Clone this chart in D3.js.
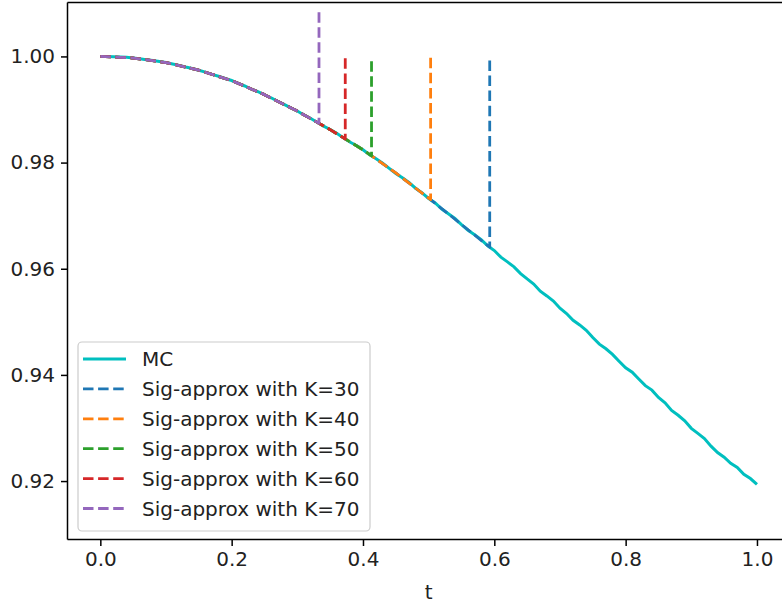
<!DOCTYPE html>
<html>
<head>
<meta charset="utf-8">
<script src="https://cdn.jsdelivr.net/npm/d3@7"></script>
<style>
  html, body { margin: 0; padding: 0; background: #ffffff; }
  svg { display: block; font-family: "DejaVu Sans", sans-serif; }
</style>
</head>
<body>
<svg id="chart" width="782" height="608"></svg>
<script>
// ---------- data ----------
const mcValues = [
  1.00000, 0.99999, 0.99996, 0.99990, 0.99983, 0.99970, 0.99956, 0.99938, 0.99923, 0.99904,
  0.99886, 0.99858, 0.99832, 0.99801, 0.99773, 0.99739, 0.99705, 0.99662, 0.99627, 0.99584,
  0.99546, 0.99492, 0.99443, 0.99386, 0.99336, 0.99278, 0.99221, 0.99155, 0.99097, 0.99031,
  0.98972, 0.98898, 0.98835, 0.98761, 0.98686, 0.98623, 0.98551, 0.98467, 0.98387, 0.98321,
  0.98241, 0.98147, 0.98072, 0.97988, 0.97890, 0.97796, 0.97713, 0.97626, 0.97517, 0.97429,
  0.97324, 0.97240, 0.97124, 0.97035, 0.96946, 0.96830, 0.96725, 0.96641, 0.96549, 0.96432,
  0.96343, 0.96218, 0.96129, 0.96036, 0.95909, 0.95808, 0.95712, 0.95578, 0.95488, 0.95392,
  0.95256, 0.95157, 0.95028, 0.94942, 0.94841, 0.94703, 0.94580, 0.94492, 0.94386, 0.94258,
  0.94134, 0.94050, 0.93924, 0.93798, 0.93713, 0.93574, 0.93473, 0.93330, 0.93239, 0.93135,
  0.92993, 0.92898, 0.92801, 0.92658, 0.92538, 0.92450, 0.92335, 0.92258, 0.92128, 0.92048,
  0.91937
];

const sigT30 = [0, 0.05, 0.10, 0.15, 0.20, 0.25, 0.30, 0.35, 0.40, 0.45, 0.50, 0.55, 0.593, 0.593];
const sigV30 = [1.0000, 0.9997, 0.99885, 0.9974, 0.99545, 0.9928, 0.9897, 0.9862, 0.9824, 0.97805, 0.9733, 0.96835, 0.96405, 1.0000];

const sigT40 = [0, 0.05, 0.10, 0.15, 0.20, 0.25, 0.30, 0.35, 0.40, 0.45, 0.50, 0.503, 0.503];
const sigV40 = [1.0000, 0.9997, 0.99885, 0.9974, 0.99545, 0.9928, 0.9897, 0.9862, 0.9824, 0.97805, 0.9733, 0.97302, 1.0000];

const sigT50 = [0, 0.05, 0.10, 0.15, 0.20, 0.25, 0.30, 0.35, 0.40, 0.413, 0.413];
const sigV50 = [1.0000, 0.9997, 0.99885, 0.9974, 0.99545, 0.9928, 0.9897, 0.9862, 0.9824, 0.98127, 1.0000];

const sigT60 = [0, 0.05, 0.10, 0.15, 0.20, 0.25, 0.30, 0.35, 0.373, 0.373];
const sigV60 = [1.0000, 0.9997, 0.99885, 0.9974, 0.99545, 0.9928, 0.9897, 0.9862, 0.98445, 1.0000];

const sigT70 = [0, 0.05, 0.10, 0.15, 0.20, 0.25, 0.30, 0.333, 0.333];
const sigV70 = [1.0000, 0.9997, 0.99885, 0.9974, 0.99545, 0.9928, 0.9897, 0.98739, 1.0091];

const xTicks = [0.0, 0.2, 0.4, 0.6, 0.8, 1.0];
const yTicks = [0.92, 0.94, 0.96, 0.98, 1.00];

const seriesNames = ["MC", "Sig-approx with K=30", "Sig-approx with K=40", "Sig-approx with K=50", "Sig-approx with K=60", "Sig-approx with K=70"];
const seriesColors = ["#00bfbf", "#1f77b4", "#ff7f0e", "#2ca02c", "#d62728", "#9467bd"];

// ---------- layout ----------
const mLeft = 67.5, mRight = 789.8, mTop = 2.5, mBottom = 539.5;
const svg = d3.select("#chart");
const fontSize = 20;

const x = d3.scaleLinear().domain([-0.05, 1.05]).range([mLeft, mRight]);
const y = d3.scaleLinear().domain([0.90899, 1.01016]).range([mBottom, mTop]);

const mcData = mcValues.map((v, i) => [i / (mcValues.length - 1), v]);
const sigData = [
  sigT30.map((t, i) => [t, sigV30[i]]),
  sigT40.map((t, i) => [t, sigV40[i]]),
  sigT50.map((t, i) => [t, sigV50[i]]),
  sigT60.map((t, i) => [t, sigV60[i]]),
  sigT70.map((t, i) => [t, sigV70[i]])
];

svg.append("defs").append("clipPath").attr("id", "clip")
  .append("rect").attr("x", mLeft).attr("y", mTop).attr("width", mRight - mLeft).attr("height", mBottom - mTop);

const line = d3.line().x(d => x(d[0])).y(d => y(d[1]));
const plot = svg.append("g").attr("clip-path", "url(#clip)");

plot.append("path").datum(mcData)
  .attr("d", line).attr("fill", "none")
  .attr("stroke", seriesColors[0]).attr("stroke-width", 3)
  .attr("stroke-linejoin", "miter").attr("stroke-linecap", "butt");

sigData.forEach((d, i) => {
  plot.append("path").datum(d)
    .attr("d", line).attr("fill", "none")
    .attr("stroke", seriesColors[i + 1]).attr("stroke-width", 2.8)
    .attr("stroke-dasharray", "10.5,4.6")
    .attr("stroke-linejoin", "round");
});

// ---------- axes ----------
const xAxis = d3.axisBottom(x).tickValues(xTicks).tickFormat(d3.format(".1f")).tickSize(6.5).tickPadding(6);
const yAxis = d3.axisLeft(y).tickValues(yTicks).tickFormat(d3.format(".2f")).tickSize(6.5).tickPadding(6);

const gx = svg.append("g").attr("transform", `translate(0,${mBottom})`).call(xAxis);
const gy = svg.append("g").attr("transform", `translate(${mLeft},0)`).call(yAxis);
[gx, gy].forEach(g => {
  g.select(".domain").remove();
  g.selectAll(".tick line").attr("stroke", "#000").attr("stroke-width", 1.5);
  g.selectAll(".tick text").attr("fill", "#222").attr("font-size", fontSize).attr("font-family", "DejaVu Sans");
});

// spines
const spine = svg.append("g").attr("stroke", "#000").attr("stroke-width", 1.5).attr("fill", "none");
spine.append("line").attr("x1", mLeft).attr("x2", mLeft).attr("y1", mTop).attr("y2", mBottom);
spine.append("line").attr("x1", mLeft).attr("x2", mRight).attr("y1", mBottom).attr("y2", mBottom);
spine.append("line").attr("x1", mLeft).attr("x2", mRight).attr("y1", mTop).attr("y2", mTop);
spine.append("line").attr("x1", mRight).attr("x2", mRight).attr("y1", mTop).attr("y2", mBottom);

// x label
svg.append("text").attr("x", (mLeft + mRight) / 2).attr("y", 599)
  .attr("text-anchor", "middle").attr("font-size", fontSize).attr("fill", "#222").text("t");

// ---------- legend ----------
const lg = svg.append("g");
lg.append("rect").attr("x", 78).attr("y", 342).attr("width", 292).attr("height", 189)
  .attr("rx", 4).attr("ry", 4)
  .attr("fill", "#fff").attr("fill-opacity", 0.8)
  .attr("stroke", "#cccccc").attr("stroke-width", 1.2);

seriesNames.forEach((name, i) => {
  const cy = 359 + i * 29.9;
  lg.append("line").attr("x1", 83).attr("x2", 126).attr("y1", cy).attr("y2", cy)
    .attr("stroke", seriesColors[i]).attr("stroke-width", 2.8)
    .attr("stroke-dasharray", i === 0 ? null : "10.5,4.6");
  lg.append("text").attr("x", 142).attr("y", cy).attr("dy", "0.36em")
    .attr("font-size", fontSize).attr("fill", "#222").text(name);
});
</script>
</body>
</html>
